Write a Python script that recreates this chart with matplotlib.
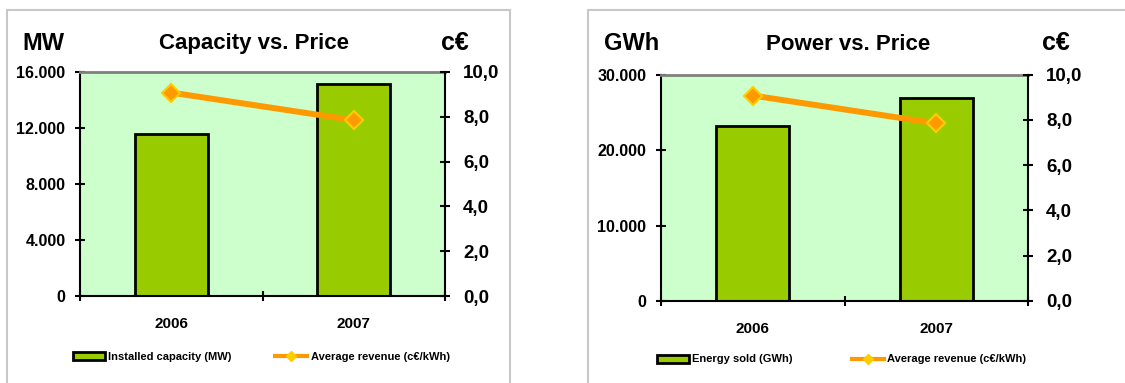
import matplotlib.pyplot as plt
from matplotlib.patches import Rectangle, Patch
from matplotlib.lines import Line2D
from matplotlib.ticker import FuncFormatter

plt.rcParams['font.family'] = ['Liberation Sans', 'DejaVu Sans']
plt.rcParams['font.weight'] = 'bold'

years = ['2006', '2007']
capacity_mw = [11600, 15150]
energy_gwh = [23250, 26850]
avg_revenue = [9.08, 7.85]

W, H = 1125, 383
BAR_GREEN = '#99CC00'
PLOT_BG = '#CCFFCC'
ORANGE = '#FF9900'
YELLOW = '#FFCC00'


def px(x, y):
    return x / W, 1 - y / H


def thousands(v, pos):
    return f'{int(round(v)):,}'.replace(',', '.')


def comma1(v, pos):
    return f'{v:.1f}'.replace('.', ',')


def panel(fig, box, values, ymax, ystep, unit, title, bar_label,
          unit_x, title_x, ce_x, base_y, leg_xy, colspace):
    x0, y0, x1, y1 = box
    ax = fig.add_axes([x0 / W, 1 - y1 / H, (x1 - x0) / W, (y1 - y0) / H])
    ax.set_facecolor(PLOT_BG)
    ax.bar(range(len(years)), values, width=0.4, color=BAR_GREEN,
           edgecolor='black', linewidth=2, zorder=2)
    ax.set_xlim(-0.5, 1.5)
    ax.set_ylim(0, ymax)
    ax.set_yticks(range(0, ymax + 1, ystep))
    ax.yaxis.set_major_formatter(FuncFormatter(thousands))
    ax.set_xticks([-0.5, 0.5, 1.5])
    ax.set_xticklabels([])
    ax.set_xticks([0, 1], minor=True)
    ax.set_xticklabels(years, minor=True)
    ax.tick_params(axis='x', which='major', direction='inout', length=7, width=1.5)
    ax.tick_params(axis='x', which='minor', length=0, pad=15, labelsize=11)
    ax.tick_params(axis='y', direction='inout', length=7, width=1.5,
                   pad=7, labelsize=11.5)
    for s in ['left', 'bottom']:
        ax.spines[s].set_linewidth(1.5)
    ax.spines['top'].set_color('#808080')
    ax.spines['top'].set_linewidth(2)
    ax.spines['right'].set_visible(False)

    # secondary axis for the revenue line
    ax2 = ax.twinx()
    ax2.plot(range(len(years)), avg_revenue, color=ORANGE, lw=4.3,
             marker='D', markersize=9, markerfacecolor=ORANGE,
             markeredgecolor=YELLOW, markeredgewidth=1.5, zorder=3)
    ax2.set_ylim(0, 10)
    ax2.set_yticks(range(0, 11, 2))
    ax2.yaxis.set_major_formatter(FuncFormatter(comma1))
    ax2.tick_params(axis='y', direction='inout', length=7, width=1.5,
                    pad=9.5, labelsize=13.5)
    for s in ['left', 'top', 'bottom']:
        ax2.spines[s].set_visible(False)
    ax2.spines['right'].set_linewidth(1.5)

    fig.text(*px(unit_x, base_y), unit, fontsize=17, ha='left', va='baseline')
    fig.text(*px(title_x, base_y), title, fontsize=16, ha='center', va='baseline')
    fig.text(*px(ce_x, base_y), 'c€', fontsize=18, ha='left', va='baseline')

    handles = [Patch(facecolor=BAR_GREEN, edgecolor='black', linewidth=2),
               Line2D([], [], color=ORANGE, lw=3, marker='D', markersize=5,
                      markerfacecolor=YELLOW, markeredgecolor=YELLOW)]
    ax.legend(handles, [bar_label, 'Average revenue (c€/kWh)'],
              loc='center left', bbox_to_anchor=px(*leg_xy),
              bbox_transform=fig.transFigure, ncol=2, frameon=False,
              fontsize=8, handlelength=2.9, handletextpad=0.3,
              columnspacing=colspace, borderpad=0, borderaxespad=0)


fig = plt.figure(figsize=(W / 100, H / 100), dpi=100)

# light grey chart frames
fig.add_artist(Rectangle(px(7, 400), 503 / W, 390 / H, transform=fig.transFigure,
                         fill=False, edgecolor='#c8c8c8', linewidth=1.5))
fig.add_artist(Rectangle(px(588, 400), 560 / W, 390 / H, transform=fig.transFigure,
                         fill=False, edgecolor='#c8c8c8', linewidth=1.5))

panel(fig, (80, 72, 445, 296), capacity_mw, 16000, 4000, 'MW',
      'Capacity vs. Price', 'Installed capacity (MW)',
      22, 254, 441, 49.5, (72.7, 356.5), 3.9)
panel(fig, (661, 74.7, 1028, 301), energy_gwh, 30000, 10000, 'GWh',
      'Power vs. Price', 'Energy sold (GWh)',
      604, 848, 1042, 50.5, (656.7, 359.5), 5.3)

fig.savefig('out.png', dpi=100)
